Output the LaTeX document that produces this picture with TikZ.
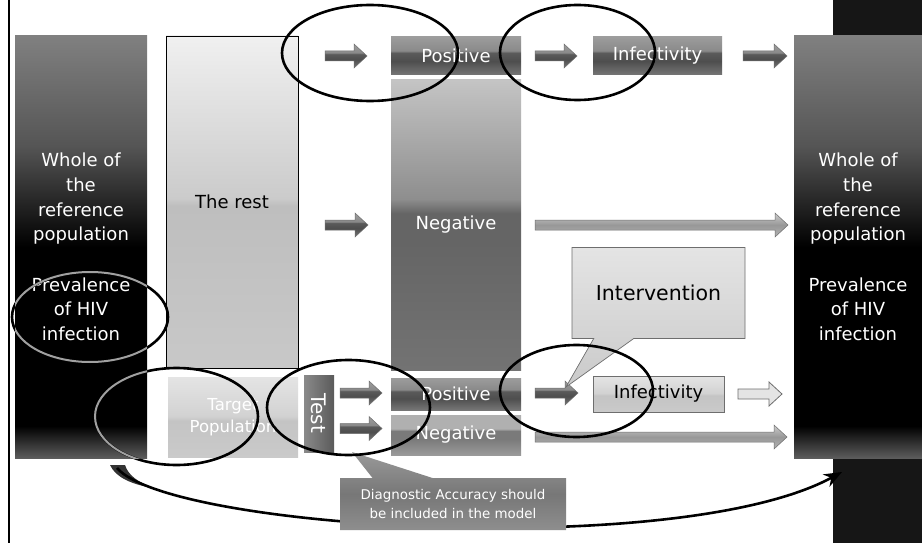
\documentclass[tikz,border=0pt]{standalone}
\usepackage{fontspec}
\setmainfont{DejaVu Sans}
\usetikzlibrary{arrows.meta,shapes.callouts,calc}

\definecolor{poptop}{HTML}{808080}
\definecolor{popmid}{HTML}{555555}
\definecolor{popbot}{HTML}{5C5C5C}
\definecolor{stripc}{HTML}{161616}
\definecolor{resttop}{HTML}{F0F0F0}
\definecolor{restmid}{HTML}{CBCBCB}
\definecolor{restmidb}{HTML}{BEBEBE}
\definecolor{restbot}{HTML}{C8C8C8}
\definecolor{bartop}{HTML}{9C9C9C}
\definecolor{barlight}{HTML}{8A8A8A}
\definecolor{bardark}{HTML}{4E4E4E}
\definecolor{bardarkb}{HTML}{5A5A5A}
\definecolor{barbot}{HTML}{767676}
\definecolor{negtop}{HTML}{C4C4C4}
\definecolor{negmid}{HTML}{8E8E8E}
\definecolor{negdark}{HTML}{656565}
\definecolor{negbot}{HTML}{737373}
\definecolor{nbtop}{HTML}{B0B0B0}
\definecolor{nbdark}{HTML}{7A7A7A}
\definecolor{nbbot}{HTML}{9A9A9A}
\definecolor{lttop}{HTML}{E4E4E4}
\definecolor{ltmid}{HTML}{D2D2D2}
\definecolor{ltmidb}{HTML}{C4C4C4}
\definecolor{ltbot}{HTML}{CACACA}
\definecolor{altop}{HTML}{CCCCCC}
\definecolor{almid}{HTML}{989898}
\definecolor{albot}{HTML}{B2B2B2}
\definecolor{dgtop}{HTML}{999999}
\definecolor{dgmid}{HTML}{777777}
\definecolor{dgbot}{HTML}{8E8E8E}
\definecolor{edgegray}{HTML}{6E6E6E}
\definecolor{ringgray}{HTML}{A0A0A0}

\pgfdeclareverticalshading{popshade}{100bp}{color(0bp)=(popbot); color(25bp)=(popbot); color(28.8bp)=(black); color(50bp)=(black); color(62bp)=(popmid); color(75bp)=(poptop); color(100bp)=(poptop)}
\pgfdeclareverticalshading{restshade}{100bp}{color(0bp)=(restbot); color(25bp)=(restbot); color(49.5bp)=(restmidb); color(50.5bp)=(restmid); color(75bp)=(resttop); color(100bp)=(resttop)}
\pgfdeclareverticalshading{barshade}{100bp}{color(0bp)=(barbot); color(25bp)=(barbot); color(43bp)=(bardark); color(54bp)=(bardarkb); color(57bp)=(barlight); color(75bp)=(bartop); color(100bp)=(bartop)}
\pgfdeclareverticalshading{negshade}{100bp}{color(0bp)=(negbot); color(25bp)=(negbot); color(47bp)=(negdark); color(52bp)=(negdark); color(54.5bp)=(negmid); color(75bp)=(negtop); color(100bp)=(negtop)}
\pgfdeclareverticalshading{nbshade}{100bp}{color(0bp)=(nbbot); color(25bp)=(nbbot); color(45bp)=(nbdark); color(55bp)=(nbdark); color(58bp)=(nbtop); color(75bp)=(nbtop); color(100bp)=(nbtop)}
\pgfdeclareverticalshading{ltshade}{100bp}{color(0bp)=(ltbot); color(25bp)=(ltbot); color(48bp)=(ltmidb); color(51bp)=(ltmid); color(75bp)=(lttop); color(100bp)=(lttop)}
\pgfdeclareverticalshading{alshade}{100bp}{color(0bp)=(albot); color(25bp)=(albot); color(50bp)=(almid); color(75bp)=(altop); color(100bp)=(altop)}
\pgfdeclareverticalshading{dgshade}{100bp}{color(0bp)=(dgbot); color(25bp)=(dgbot); color(48bp)=(dgmid); color(75bp)=(dgtop); color(100bp)=(dgtop)}

\begin{document}
\begin{tikzpicture}[x=1pt,y=-1pt,
  blk/.style={rectangle,inner sep=0pt,outer sep=0pt,align=center},
  big/.style={font=\fontsize{18}{24.6}\selectfont},
  fat/.style={to path={let \p1=(\tikztostart), \p2=(\tikztotarget) in
      (\x1,\y1+5pt) -- (\x2-13pt,\y1+5pt) -- (\x2-13pt,\y1+12pt) -- (\x2,\y1)
      -- (\x2-13pt,\y1-12pt) -- (\x2-13pt,\y1-5pt) -- (\x1,\y1-5pt) -- cycle}},
  darkarr/.style={fat,shade,shading=barshade,draw=edgegray,line width=0.5pt},
  lightarr/.style={fat,shade,shading=alshade,draw=edgegray,line width=0.5pt},
  hollowarr/.style={fat,fill=lttop,draw=edgegray,line width=0.8pt},
  ring/.style={draw=black,line width=2.6pt},
  ringin/.style={draw=ringgray,line width=2pt},
]
\useasboundingbox (0,0) rectangle (922,543);
\fill[white] (0,0) rectangle (922,543);

% frame pieces
\draw[line width=2.5pt] (9,0) -- (9,543);
\fill[stripc] (833,0) rectangle (922,543);

% population boxes
\node[blk,big,text=white,minimum width=132pt,minimum height=422pt,shade,shading=popshade] (L) at (81,247)
  {Whole of\\the\\reference\\population\\[26pt]Prevalence\\of HIV\\infection};
\node[blk,big,text=white,minimum width=128pt,minimum height=422pt,shade,shading=popshade] (R) at (858,247)
  {Whole of\\the\\reference\\population\\[26pt]Prevalence\\of HIV\\infection};

% left column
\node[blk,big,minimum width=132pt,minimum height=332pt,shade,shading=restshade,draw=black,line width=0.8pt] (rest) at (232,202) {The rest};
\node[blk,font=\fontsize{16.5}{22}\selectfont,text=white,minimum width=130pt,minimum height=80pt,shade,shading=ltshade] (target) at (233,417.5) {Target\\Population};
\node[blk,minimum width=30pt,minimum height=77pt,left color=barlight,right color=bardarkb] (test) at (319,413.5) {};
\node[rotate=-90,text=white,font=\fontsize{20}{22}\selectfont,inner sep=0pt] (testlbl) at (test.center) {Test};

% middle column
\node[blk,big,text=white,minimum width=130pt,minimum height=38pt,shade,shading=barshade] (posA) at (456,56) {Positive};
\node[blk,big,text=white,minimum width=130pt,minimum height=290pt,shade,shading=negshade] (negA) at (456,225) {Negative};
\node[blk,big,text=white,minimum width=130pt,minimum height=32pt,shade,shading=barshade] (posB) at (456,394) {Positive};
\node[blk,big,text=white,minimum width=130pt,minimum height=40pt,shade,shading=nbshade] (negB) at (456,435) {Negative};

% right column
\node[blk,big,text=white,minimum width=129pt,minimum height=38pt,shade,shading=barshade] (infA) at (657.5,56) {Infectivity};
\node[blk,big,minimum width=131pt,minimum height=36pt,shade,shading=ltshade,draw=edgegray,line width=0.6pt] (infB) at (658.5,394) {Infectivity};

% block arrows
\coordinate (a1s) at ($(rest.east |- posA)+(27,0)$);
\coordinate (a1e) at ($(posA.west)+(-24,0)$);
\coordinate (a2s) at ($(rest.east |- negA)+(27,0)$);
\coordinate (a2e) at ($(negA.west)+(-23,0)$);
\coordinate (a3s) at ($(posA.east)+(14,0)$);
\coordinate (a3e) at ($(infA.west)+(-16,0)$);
\coordinate (a4s) at ($(infA.east)+(21,0)$);
\coordinate (a4e) at ($(R.west |- infA)+(-7,0)$);
\coordinate (a5s) at ($(negA.east)+(14,0)$);
\coordinate (a5e) at ($(R.west |- negA)+(-6,0)$);
\coordinate (a6s) at ($(test.east |- posB)+(6,-1)$);
\coordinate (a6e) at ($(posB.west)+(-9,-1)$);
\coordinate (a7s) at ($(test.east)+(6,15)$);
\coordinate (a7e) at ($(negB.west)+(-9,-6)$);
\coordinate (a8s) at ($(posB.east)+(14,-1)$);
\coordinate (a8e) at ($(infB.west |- posB)+(-15,-1)$);
\coordinate (a9s) at ($(infB.east)+(14,0)$);
\coordinate (a9e) at ($(R.west |- infB)+(-12,0)$);
\coordinate (a10s) at ($(negB.east)+(14,2)$);
\coordinate (a10e) at ($(R.west |- negB)+(-7,2)$);

\draw[darkarr] (a1s) to (a1e);
\draw[darkarr] (a2s) to (a2e);
\draw[darkarr] (a3s) to (a3e);
\draw[darkarr] (a4s) to (a4e);
\draw[lightarr] (a5s) to (a5e);
\draw[darkarr] (a6s) to (a6e);
\draw[darkarr] (a7s) to (a7e);
\draw[darkarr] (a8s) to (a8e);
\draw[hollowarr] (a9s) to (a9e);
\draw[lightarr] (a10s) to (a10e);

% curved feedback arrow
\coordinate (cs) at (117,468);
\coordinate (ce) at (842,472);
\fill[black!80] (110,465) -- (125,465) .. controls (128,475) and (138,482) .. (152,488)
  .. controls (132,484) and (116,478) .. (110,465) -- cycle;
\draw[line width=2.6pt,-{Stealth[length=18pt,width=14pt]}] (cs) .. controls (170,530) and (680,560) .. (ce);

% callouts
\coordinate (ptI) at (566,387);
\node[blk,rectangle callout,callout absolute pointer=(ptI),callout pointer width=40pt,
  minimum width=173pt,minimum height=91pt,top color=lttop,bottom color=ltbot,draw=edgegray,line width=0.7pt,
  font=\fontsize{20.5}{24}\selectfont] (interv) at (658.5,293) {Intervention};
\coordinate (ptD) at (352,452);
\node[blk,rectangle callout,callout absolute pointer=(ptD),callout pointer width=60pt,
  minimum width=226pt,minimum height=52pt,shade,shading=dgshade,text=white,
  font=\fontsize{13.4}{19}\selectfont] (diag) at (453,504) {Diagnostic Accuracy should\\be included in the model};

% highlight ellipses
\draw[ring] (370,53) ellipse [x radius=88, y radius=48];
\draw[ring] (577.5,52.5) ellipse [x radius=77.5, y radius=47.5];
\draw[ring] (90,317) ellipse [x radius=78, y radius=45];
\draw[ring] (176.5,416.5) ellipse [x radius=81.5, y radius=48.5];
\draw[ring] (348.5,407.5) ellipse [x radius=81.5, y radius=47.5];
\draw[ring] (576.5,391) ellipse [x radius=76.5, y radius=46];
\begin{scope}
  \clip (L.south west) rectangle (L.north east);
  \draw[ringin] (90,317) ellipse [x radius=78, y radius=45];
  \draw[ringin] (176.5,416.5) ellipse [x radius=81.5, y radius=48.5];
\end{scope}
\end{tikzpicture}
\end{document}
